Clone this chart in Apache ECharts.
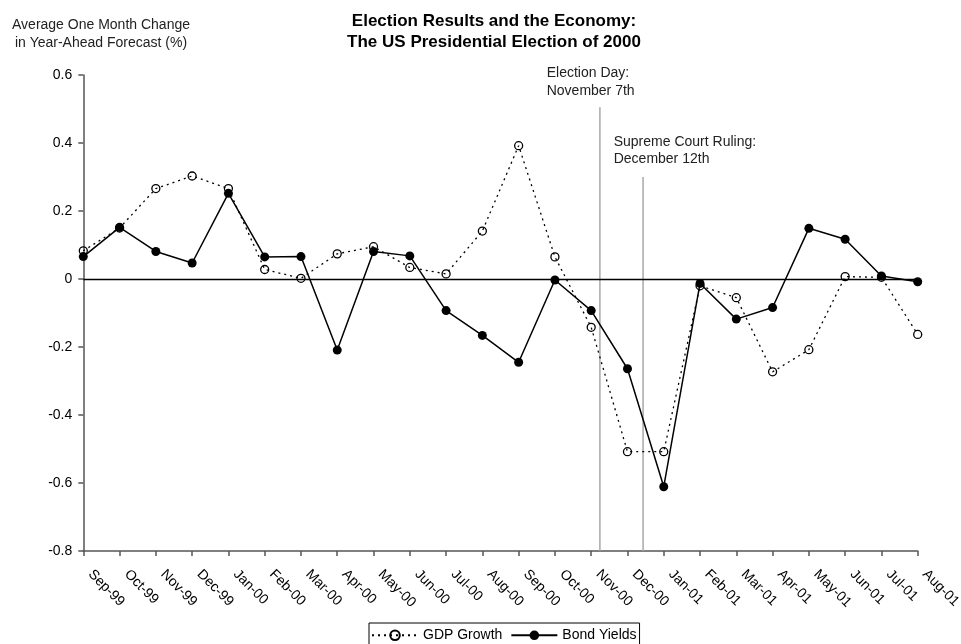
<!DOCTYPE html>
<html>
<head>
<meta charset="utf-8">
<script src="https://cdn.jsdelivr.net/npm/echarts@6/dist/echarts.min.js"></script>
<style>
html,body{margin:0;padding:0;background:#fff;}
#chart{width:961px;height:644px;}
</style>
</head>
<body>
<div id="chart"></div>
<script>
const categories = ['Sep-99','Oct-99','Nov-99','Dec-99','Jan-00','Feb-00','Mar-00','Apr-00','May-00','Jun-00','Jul-00','Aug-00','Sep-00','Oct-00','Nov-00','Dec-00','Jan-01','Feb-01','Mar-01','Apr-01','May-01','Jun-01','Jul-01','Aug-01'];
const gdpGrowth = [0.083,0.15,0.266,0.303,0.266,0.028,0.002,0.074,0.095,0.034,0.015,0.141,0.392,0.065,-0.142,-0.508,-0.508,-0.02,-0.055,-0.273,-0.208,0.007,0.005,-0.163];
const bondYields = [0.066,0.152,0.081,0.047,0.252,0.065,0.066,-0.209,0.081,0.068,-0.093,-0.166,-0.245,-0.003,-0.093,-0.264,-0.611,-0.013,-0.118,-0.084,0.149,0.117,0.009,-0.008];
const yMin = -0.8, yMax = 0.6, yStep = 0.2;
// event markers: fractional category position, top value of the marker line
const eventNames = ['Election Day:\nNovember 7th', 'Supreme Court Ruling:\nDecember 12th'];
const eventPos = [14.24, 15.43];
const eventTop = [0.505, 0.30];

const FONT = 'Liberation Sans, Arial, Helvetica, sans-serif';
const chart = echarts.init(document.getElementById('chart'));

const eventSeries = eventPos.map((p, i) => ({
  type: 'line',
  name: 'event' + i,
  xAxisIndex: 1,
  yAxisIndex: 0,
  data: [[p, yMin], [p, eventTop[i]]],
  symbol: 'none',
  silent: true,
  lineStyle: {color: '#a8a8a8', width: 1.5},
  z: 1
}));

chart.setOption({
  animation: false,
  backgroundColor: '#fff',
  textStyle: {fontFamily: FONT},
  title: [
    {
      text: 'Election Results and the Economy:\nThe US Presidential Election of 2000',
      left: 494, top: 11.5, textAlign: 'center', padding: 0,
      textStyle: {fontFamily: FONT, fontSize: 17, fontWeight: 'bold', color: '#000', lineHeight: 20.6}
    },
    {
      text: 'Average One Month Change\nin Year-Ahead Forecast (%)',
      left: 101, top: 16.5, textAlign: 'center', padding: 0,
      textStyle: {fontFamily: FONT, fontSize: 14, fontWeight: 'normal', color: '#222', lineHeight: 18}
    }
  ],
  grid: {left: 83.3, right: 43.3, top: 75, bottom: 93, containLabel: false, outerBoundsMode: 'none'},
  legend: {
    data: ['GDP Growth', 'Bond Yields'],
    left: 369, top: 623,
    orient: 'horizontal',
    itemWidth: 46, itemHeight: 12, itemGap: 8,
    padding: [5, 3, 10, 2],
    borderColor: '#000', borderWidth: 1,
    textStyle: {fontFamily: FONT, fontSize: 14, color: '#000'}
  },
  xAxis: [
    {
      type: 'category',
      data: categories,
      boundaryGap: false,
      position: 'bottom',
      axisLine: {onZero: false, lineStyle: {color: '#555', width: 1.5}},
      axisTick: {show: true, inside: false, length: 5, interval: 0, lineStyle: {color: '#555', width: 1.5}},
      axisLabel: {interval: 0, rotate: -45, margin: 14, padding: [0, 0, 0, 10], fontFamily: FONT, fontSize: 14, color: '#000'},
      splitLine: {show: false}
    },
    {
      type: 'value',
      min: 0, max: categories.length - 1,
      show: false
    }
  ],
  yAxis: {
    type: 'value',
    min: yMin, max: yMax, interval: yStep,
    axisLine: {show: true, lineStyle: {color: '#555', width: 1.5}},
    axisTick: {show: true, length: 5, lineStyle: {color: '#555', width: 1.5}},
    axisLabel: {margin: 11, fontFamily: FONT, fontSize: 14, color: '#000',
      formatter: v => (Math.abs(v) < 1e-9 ? '0' : String(Math.round(v * 10) / 10))},
    splitLine: {show: false}
  },
  graphic: [
    {type: 'text', left: 546.7, top: 64, style: {text: eventNames[0], font: '14px ' + FONT, fill: '#222', lineHeight: 18}},
    {type: 'text', left: 613.7, top: 134, style: {text: eventNames[1], font: '14px ' + FONT, fill: '#222', lineHeight: 17}}
  ],
  series: [
    ...eventSeries,
    {
      name: 'GDP Growth',
      type: 'line',
      data: gdpGrowth,
      symbol: 'circle',
      symbolSize: 8,
      lineStyle: {color: '#000', width: 1.3, type: [2, 4]},
      itemStyle: {color: 'none', borderColor: '#000', borderWidth: 1.3},
      z: 3,
      markLine: {
        silent: true, symbol: 'none', label: {show: false},
        lineStyle: {color: '#000', width: 1.3, type: 'solid'},
        data: [{yAxis: 0}]
      }
    },
    {
      name: 'Bond Yields',
      type: 'line',
      data: bondYields,
      symbol: 'circle',
      symbolSize: 9,
      lineStyle: {color: '#000', width: 1.5},
      itemStyle: {color: '#000'},
      z: 4
    }
  ]
});
</script>
</body>
</html>
